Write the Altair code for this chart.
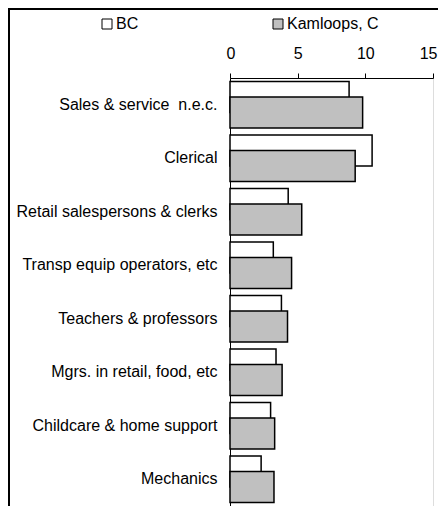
import altair as alt
import pandas as pd

categories = [
    "Sales & service\u00a0 n.e.c.",
    "Clerical\u00a0",
    "Retail salespersons & clerks",
    "Transp equip operators, etc",
    "Teachers & professors",
    "Mgrs. in retail, food, etc",
    "Childcare & home support",
    "Mechanics",
]
bc = [8.8, 10.5, 4.3, 3.2, 3.8, 3.4, 3.0, 2.3]
kamloops = [9.8, 9.25, 5.3, 4.55, 4.25, 3.85, 3.3, 3.25]
series = ["BC", "Kamloops, C"]
x_ticks = [0, 5, 10, 15]

rows = []
for c, b, k in zip(categories, bc, kamloops):
    rows.append({"occupation": c, "series": series[0], "value": b})
    rows.append({"occupation": c, "series": series[1], "value": k})
df = pd.DataFrame(rows)

FONT = "Liberation Sans"

x_enc = alt.X(
    "value:Q",
    scale=alt.Scale(domain=[0, 15], nice=False, zero=True),
    axis=alt.Axis(
        orient="top", values=x_ticks, title=None, grid=False,
        domainColor="black", domainWidth=1, tickColor="black", tickSize=5,
        labelFont=FONT, labelFontSize=16, labelColor="black", labelPadding=12,
        labelFlush=True, labelFlushOffset=4,
    ),
)
y_enc = alt.Y(
    "occupation:N",
    sort=categories,
    scale=alt.Scale(range=[0, 428], paddingInner=0, paddingOuter=0),
    axis=alt.Axis(
        title=None, ticks=False, domainColor="black", domainWidth=1,
        labelFont=FONT, labelFontSize=16, labelColor="black", labelPadding=13,
        labelLimit=300,
    ),
)
color_enc = alt.Color(
    "series:N",
    scale=alt.Scale(domain=series, range=["white", "#C0C0C0"]),
    legend=alt.Legend(
        title=None, orient="none", legendX=-131, legendY=-62,
        direction="horizontal", columns=2, columnPadding=131,
        symbolType="square", symbolSize=100, symbolStrokeColor="black",
        symbolStrokeWidth=1, symbolOpacity=1, labelOffset=1,
        labelFont=FONT, labelFontSize=16, labelColor="black",
    ),
)

base = alt.Chart(df)
bar_bc = base.transform_filter(alt.datum.series == series[0]).mark_bar(
    height=31, yOffset=-7.8, stroke="black", strokeWidth=1.5, opacity=1
).encode(x=x_enc, y=y_enc, color=color_enc)
bar_k = base.transform_filter(alt.datum.series == series[1]).mark_bar(
    height=31, yOffset=7.8, stroke="black", strokeWidth=1.5, opacity=1
).encode(x=x_enc, y=y_enc, color=color_enc)

one = pd.DataFrame({"f": [0]})
frame_left = alt.Chart(one).mark_rule(color="black", strokeWidth=2).encode(
    x=alt.value(-221), y=alt.value(-70), y2=alt.value(520)
)
frame_top = alt.Chart(one).mark_rule(color="black", strokeWidth=2).encode(
    x=alt.value(-222), x2=alt.value(300), y=alt.value(-69)
)

chart = alt.layer(frame_left, frame_top, bar_bc, bar_k).properties(
    width=203,
    height=428,
    padding={"left": 222, "top": 70, "right": 5, "bottom": 0},
    autosize=alt.AutoSizeParams(type="none"),
).configure_view(stroke=None).configure(background="white")

chart.save("out.html", embed_options={"renderer": "svg", "actions": False})
